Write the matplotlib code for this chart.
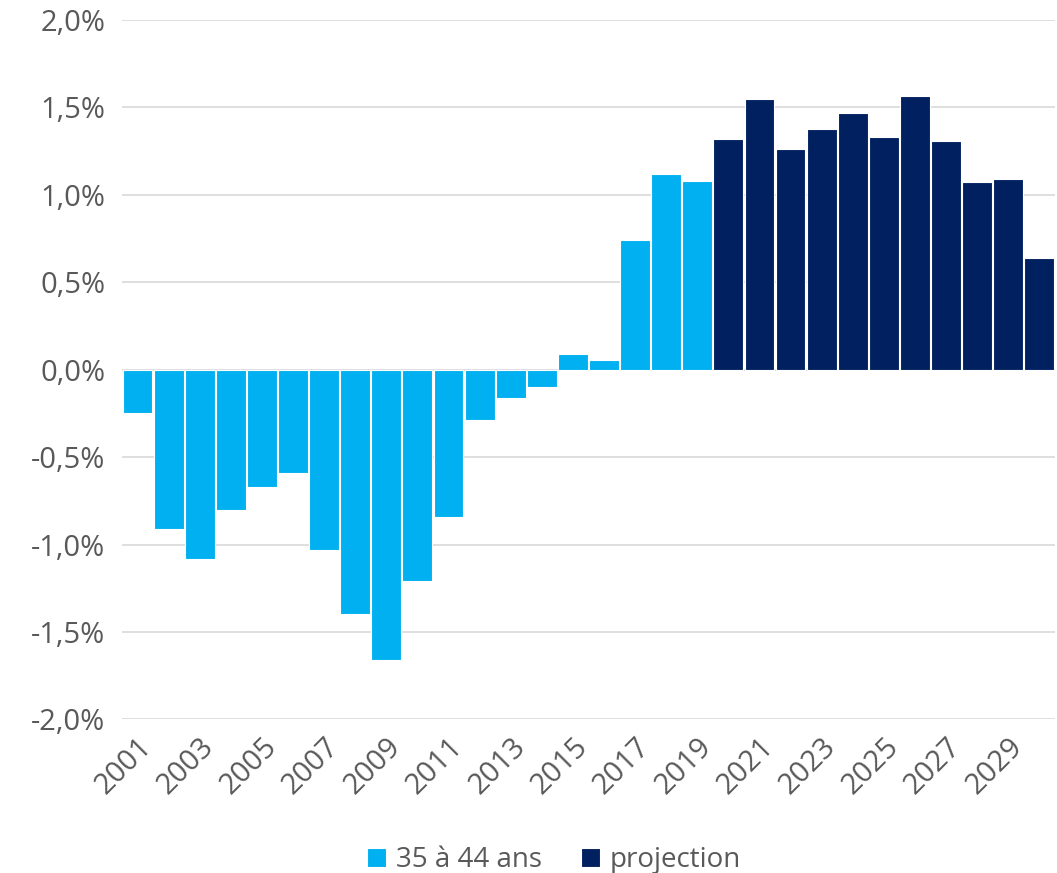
import matplotlib
matplotlib.use("Agg")
from matplotlib import pyplot as plt
from matplotlib.ticker import FuncFormatter

plt.rcParams["font.family"] = ["Open Sans", "DejaVu Sans"]

# annual change, 35 to 44 years old
years_hist = list(range(2001, 2020))
vals_hist = [-0.25, -0.91, -1.08, -0.80, -0.67, -0.59, -1.03, -1.40, -1.66, -1.21,
             -0.84, -0.29, -0.16, -0.10, 0.09, 0.055, 0.74, 1.12, 1.08]
years_proj = list(range(2020, 2031))
vals_proj = [1.32, 1.55, 1.265, 1.375, 1.47, 1.33, 1.565, 1.31, 1.075, 1.09, 0.64]

light = "#00B0F0"
navy = "#002060"
grey = "#595959"

fig = plt.figure(figsize=(10.57, 8.73), dpi=100)
ax = fig.add_axes([0.1154, 0.176, 0.8826, 0.801])

ax.bar(years_hist, vals_hist, width=0.96, color=light, edgecolor="white",
       linewidth=0.8, label="35 à 44 ans", zorder=3)
ax.bar(years_proj, vals_proj, width=0.96, color=navy, edgecolor="white",
       linewidth=0.8, label="projection", zorder=3)

ax.set_xlim(2000.5, 2030.5)
ax.set_ylim(-2.0, 2.0)
ax.set_yticks([-2.0, -1.5, -1.0, -0.5, 0.0, 0.5, 1.0, 1.5, 2.0])
ax.yaxis.set_major_formatter(FuncFormatter(lambda v, p: f"{v:.1f}%".replace(".", ",")))
ax.set_xticks(list(range(2001, 2030, 2)))
ax.set_xticklabels([str(y) for y in range(2001, 2030, 2)], rotation=45,
                   ha="right", va="top", rotation_mode="anchor")

ax.grid(axis="y", color="#D9D9D9", linewidth=1.2, zorder=0)
for s in ax.spines.values():
    s.set_visible(False)
ax.tick_params(axis="both", length=0, labelsize=21, colors=grey)
ax.tick_params(axis="x", pad=9)
ax.tick_params(axis="y", pad=12)

leg = fig.legend(loc="lower center", bbox_to_anchor=(0.524, -0.03), ncol=2, frameon=False,
                 fontsize=20, handlelength=0.7, handleheight=0.7, columnspacing=1.4,
                 handletextpad=0.35)
for t in leg.get_texts():
    t.set_color(grey)

fig.savefig("out.png", dpi=100)
